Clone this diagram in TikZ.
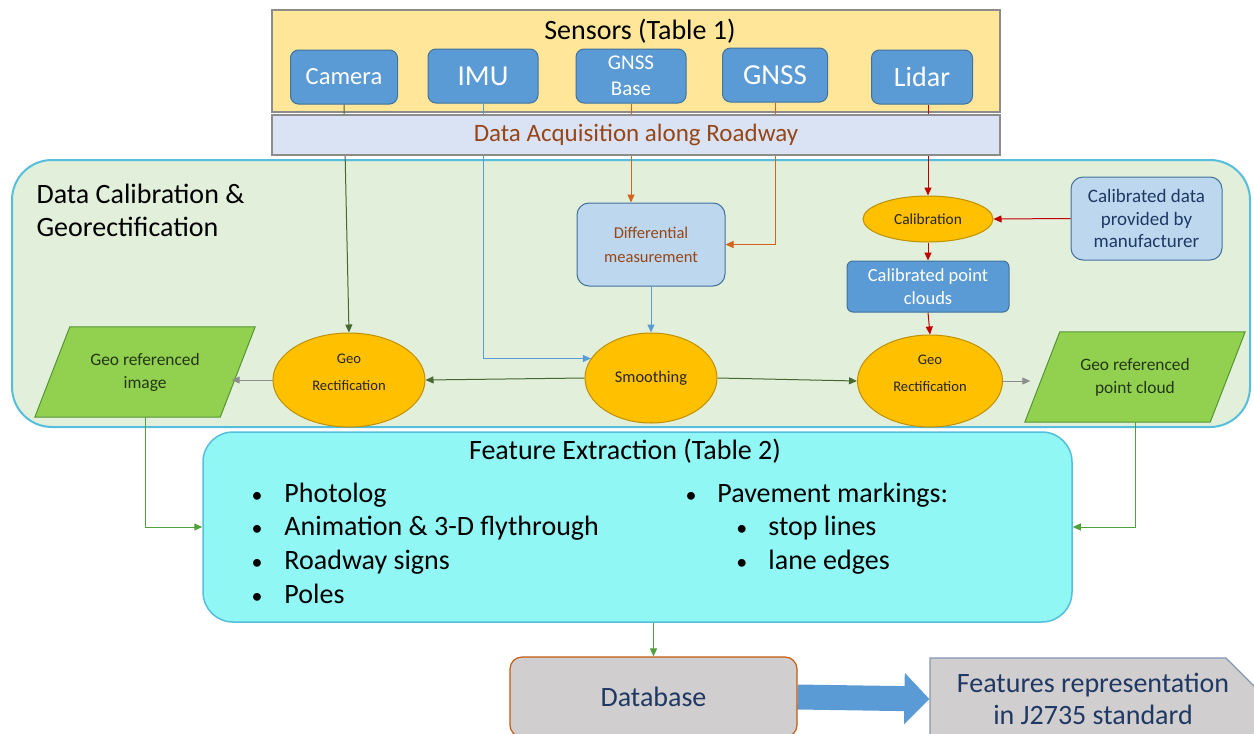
\documentclass[tikz,border=0pt]{standalone}
\usepackage{fontspec}
\setmainfont{Carlito}
\usetikzlibrary{arrows.meta,shapes.geometric,shapes.misc}

\definecolor{sensorfill}{RGB}{255,230,153}
\definecolor{sensorblue}{RGB}{91,155,213}
\definecolor{sensorline}{RGB}{65,113,156}
\definecolor{acqfill}{RGB}{218,227,243}
\definecolor{acqtext}{RGB}{150,70,25}
\definecolor{calfill}{RGB}{226,239,218}
\definecolor{calline}{RGB}{85,190,220}
\definecolor{lightblue}{RGB}{189,215,238}
\definecolor{ovalfill}{RGB}{255,192,0}
\definecolor{ovalline}{RGB}{191,144,0}
\definecolor{geofill}{RGB}{146,208,80}
\definecolor{geoline}{RGB}{84,150,50}
\definecolor{geotext}{RGB}{35,55,20}
\definecolor{featfill}{RGB}{145,247,245}
\definecolor{dbfill}{RGB}{208,206,206}
\definecolor{dbline}{RGB}{197,90,17}
\definecolor{stdline}{RGB}{132,151,176}
\definecolor{navy}{RGB}{31,56,100}
\definecolor{darkgreen}{RGB}{70,105,50}
\definecolor{midgreen}{RGB}{80,160,60}
\definecolor{orangeline}{RGB}{210,100,30}
\definecolor{redline}{RGB}{192,0,0}
\definecolor{greyline}{RGB}{140,140,140}

\pgfdeclarelayer{background}
\pgfdeclarelayer{lines}
\pgfsetlayers{background,lines,main}

\newcommand{\featdot}{{\fontsize{22}{22}\selectfont\textbullet}}

\begin{document}
\begin{tikzpicture}[x=1pt, y=-1pt,
  sensor/.style = {shape=rectangle, rounded corners=8pt, draw=sensorline,
    line width=1pt, fill=sensorblue, text=white, align=center,
    minimum height=54pt, font=\fontsize{29}{31}\selectfont},
  softbox/.style = {shape=rectangle, rounded corners=12pt, draw=sensorline,
    line width=1pt, fill=lightblue, align=center,
    font=\fontsize{19}{22.5}\selectfont},
  oval/.style = {shape=ellipse, draw=ovalline, line width=1pt,
    fill=ovalfill, align=center, inner sep=0pt,
    font=\fontsize{14.6}{27}\selectfont, text=black!85},
  georect/.style = {oval, text depth=15pt},
  geodata/.style = {shape=rectangle, align=center,
    minimum width=185pt, minimum height=90pt, inner sep=2pt,
    text=geotext, font=\fontsize{17.4}{23}\selectfont},
  geoshape/.style = {draw=geoline, line width=1pt, fill=geofill},
  conn/.style = {line width=1pt, -{Triangle[length=8pt,width=7pt]}}]
  \useasboundingbox (0,0) rectangle (1254,734);

  % sensors
  \node[font=\fontsize{28}{30}\selectfont] (sensorstitle) at (640,31)
    {Sensors (Table 1)};
  \node[sensor, minimum width=107pt, font=\fontsize{24.6}{26}\selectfont]
    (camera) at (344,77) {Camera};
  \node[sensor, minimum width=110pt] (imu) at (483,76) {IMU};
  \node[sensor, minimum width=110pt, font=\fontsize{21}{26}\selectfont]
    (base) at (631,76) {GNSS\\Base};
  \node[sensor, minimum width=105pt] (gnss) at (775,75) {GNSS};
  \node[sensor, minimum width=101pt, font=\fontsize{28}{30}\selectfont]
    (lidar) at (922,77) {Lidar};
  \node[draw=greyline, line width=1.2pt, fill=acqfill, text=acqtext,
    minimum width=728pt, minimum height=40pt, inner sep=0pt,
    font=\fontsize{25}{27}\selectfont] (acq) at (636,135)
    {Data Acquisition along Roadway};

  % calibration and georectification
  \node[anchor=west, align=left, font=\fontsize{28}{33}\selectfont]
    (caltitle) at (33,210) {Data Calibration \&\\Georectification};
  \node[softbox, minimum width=148pt, minimum height=83pt, text=acqtext,
    font=\fontsize{16.5}{24}\selectfont]
    (diff) at (651,244.5) {Differential\\measurement};
  \node[oval, minimum width=130pt, minimum height=46pt,
    font=\fontsize{15.4}{20}\selectfont] (calib) at (928,219) {Calibration};
  \node[softbox, minimum width=151pt, minimum height=83pt, text=navy]
    (manu) at (1146.5,218.5) {Calibrated data\\provided by\\manufacturer};
  \node[sensor, minimum width=162pt, minimum height=51pt, rounded corners=6pt,
    font=\fontsize{18.5}{23}\selectfont] (cloud) at (928,286.5)
    {Calibrated point\\clouds};
  \node[georect, minimum width=152pt, minimum height=94pt] (geoL) at (349,380)
    {Geo\\Rectification};
  \node[oval, minimum width=132pt, minimum height=90pt,
    font=\fontsize{16.4}{27}\selectfont] (smooth) at (651,378) {Smoothing};
  \node[georect, minimum width=145pt, minimum height=92pt] (geoR) at (930,381)
    {Geo\\Rectification};
  \node[geodata] (imgL) at (145,372) {Geo referenced\\image};
  \node[geodata] (ptR) at (1135,377) {Geo referenced\\point cloud};

  % feature extraction
  \node[draw=calline, line width=1.5pt, fill=featfill, rounded corners=30pt,
    minimum width=869pt, minimum height=190pt] (feat) at (637.5,527) {};
  \node[font=\fontsize{28}{30}\selectfont] (feattitle) at (625,451)
    {Feature Extraction (Table 2)};
  \node[anchor=west, font=\fontsize{28}{33.7}\selectfont] (featL) at (248,546)
    {\begin{tabular}{@{}l@{\hspace{22pt}}l@{}}
      \featdot & Photolog\\
      \featdot & Animation \& 3-D flythrough\\
      \featdot & Roadway signs\\
      \featdot & Poles
    \end{tabular}};
  \node[anchor=west, font=\fontsize{28}{33.7}\selectfont] (featR) at (682,529)
    {\begin{tabular}{@{}l@{\hspace{21pt}}l@{}}
      \featdot & Pavement markings:\\
      & \hspace{19pt}\featdot\hspace{21pt}stop lines\\
      & \hspace{19pt}\featdot\hspace{21pt}lane edges
    \end{tabular}};

  % output
  \node[draw=dbline, line width=1.2pt, fill=dbfill, rounded corners=12pt,
    minimum width=287pt, minimum height=80pt, text=navy,
    font=\fontsize{28}{30}\selectfont] (db) at (653.5,697) {Database};
  \node[chamfered rectangle, chamfered rectangle corners=north east,
    chamfered rectangle xsep=15pt, chamfered rectangle ysep=15pt,
    draw=stdline, line width=1.2pt, fill=dbfill, align=center,
    minimum width=326pt, minimum height=82pt, inner sep=0pt, text=navy,
    font=\fontsize{28}{32}\selectfont] (std) at (1093,699)
    {Features representation\\in J2735 standard};

  \begin{pgfonlayer}{background}
    \draw[fill=sensorfill, draw=greyline, line width=1.2pt]
      (272,10) rectangle (1000,112);
    \draw[fill=calfill, draw=calline, line width=2pt, rounded corners=40pt]
      (12,160) rectangle (1250,427);
  \end{pgfonlayer}

  \begin{pgfonlayer}{lines}
    % parallelograms behind their labels
    \draw[geoshape] ([xshift=-17.5pt]imgL.south west)
      -- ([xshift=-17.5pt]imgL.south east) -- ([xshift=17.5pt]imgL.north east)
      -- ([xshift=17.5pt]imgL.north west) -- cycle;
    \draw[geoshape] ([xshift=-17.5pt]ptR.south west)
      -- ([xshift=-17.5pt]ptR.south east) -- ([xshift=17.5pt]ptR.north east)
      -- ([xshift=17.5pt]ptR.north west) -- cycle;

    \draw[conn, darkgreen] (camera.south) -- (geoL.north);
    \draw[conn, sensorblue] (imu.south) |- (smooth.162);
    \draw[conn, orangeline] (base.south) -- (base.south |- diff.north);
    \draw[conn, orangeline] (gnss.south) |- (diff.east);
    \draw[conn, sensorblue] (diff.south) -- (smooth.north);
    \draw[conn, redline] (lidar.south -| calib.north) -- (calib.north);
    \draw[conn, redline] (manu.west) -- (calib.east);
    \draw[conn, redline] (calib.south) -- (cloud.north);
    \draw[conn, redline] (cloud.south) -- (geoR.north);
    \draw[conn, darkgreen] (smooth.west) -- (geoL.east);
    \draw[conn, darkgreen] (smooth.east) -- (geoR.west);
    \draw[conn, greyline] (geoL.west) -- ([xshift=-6pt]geoL.west -| imgL.east);
    \draw[conn, greyline] (geoR.east) -- ([xshift=-12pt]geoR.east -| ptR.west);
    \draw[conn, midgreen] (imgL.south) |- (feat.west);
    \draw[conn, midgreen] (ptR.south) |- (feat.east);
    \draw[conn, midgreen] (feat.south -| db.north) -- (db.north);
    \draw[sensorblue, line width=25pt,
      -{Triangle[length=25pt 0 0, width=50pt 0 0]}] (db.east) -- (std.west);
  \end{pgfonlayer}
\end{tikzpicture}
\end{document}
